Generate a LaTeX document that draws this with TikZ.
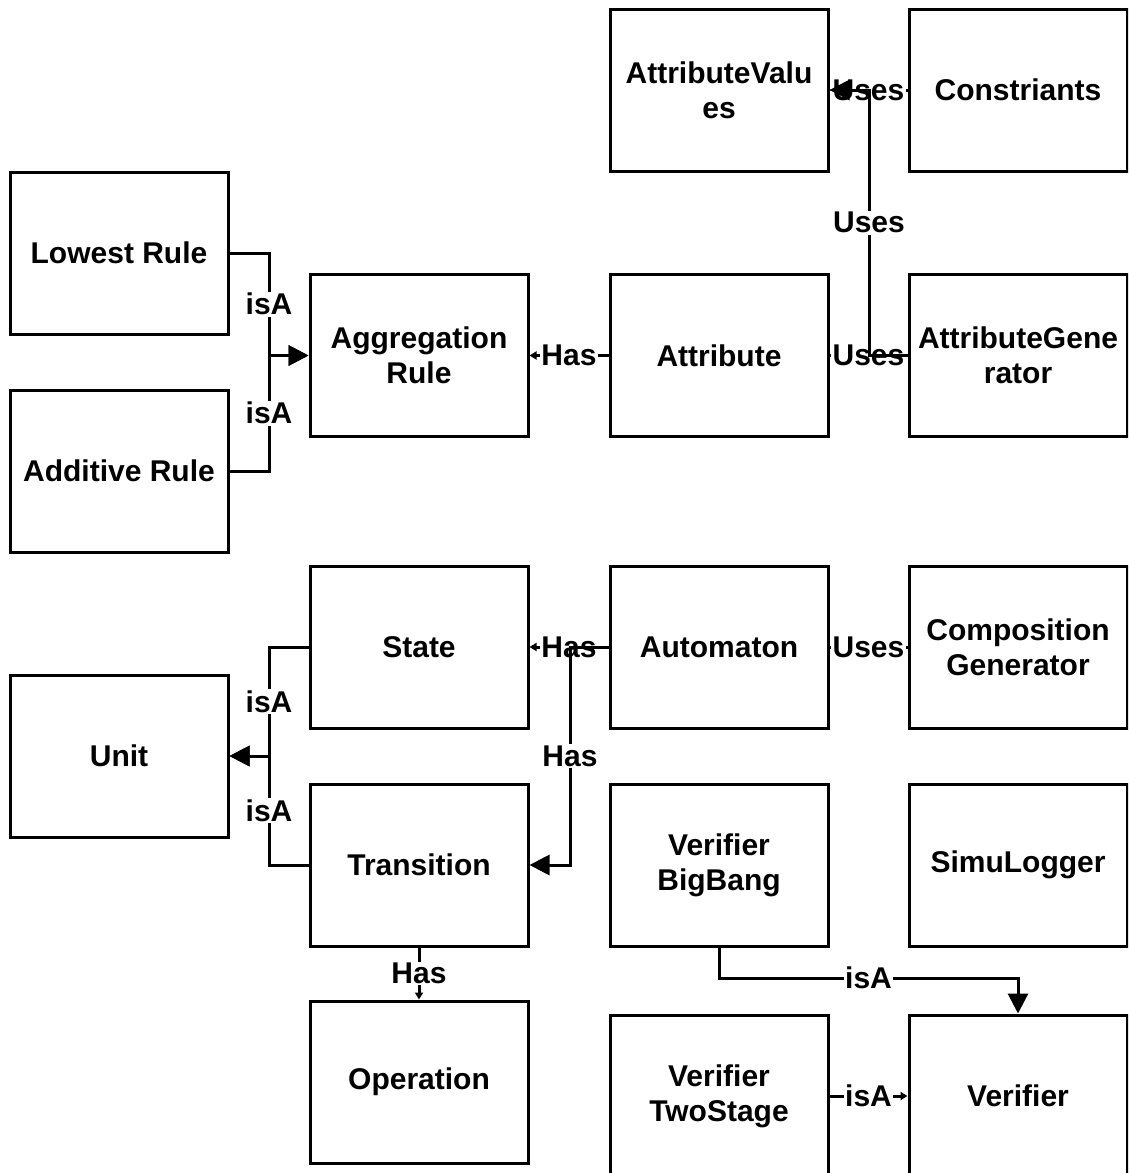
\documentclass[tikz,border=0pt]{standalone}
\usepackage{fontspec}
\setmainfont{Liberation Sans}
\usetikzlibrary{arrows.meta}
\tikzset{
 box/.style={draw, line width=3pt, minimum width=218pt, minimum height=162pt, align=center, inner sep=0pt, font=\fontsize{30}{35}\selectfont\bfseries},
 conn/.style={line width=3pt},
 bigarr/.style={conn, -{Triangle[length=20pt,width=20pt]}},
 smallarr/.style={conn, -{Triangle[length=7pt,width=8pt]}},
 lbl/.style={fill=white, inner sep=1.5pt, font=\fontsize{30}{35}\selectfont\bfseries},
}
\begin{document}
\begin{tikzpicture}[x=1pt,y=-1pt]
\useasboundingbox (0,0) rectangle (1128,1173);
\clip (0,0) rectangle (1128,1173);
\fill[white] (0,0) rectangle (1128,1173);
% boxes
\node[box] (av) at (719,90) {AttributeValu\\es};
\node[box] (con) at (1018,90) {Constriants};
\node[box] (lr) at (119,253) {Lowest Rule};
\node[box] (ag) at (419,355.5) {Aggregation\\Rule};
\node[box] (att) at (719,355.5) {Attribute};
\node[box] (agen) at (1018,355.5) {AttributeGene\\rator};
\node[box] (ad) at (119,471) {Additive Rule};
\node[box] (st) at (419,647) {State};
\node[box] (aut) at (719,647) {Automaton};
\node[box] (cg) at (1018,647) {Composition\\Generator};
\node[box] (unit) at (119,756) {Unit};
\node[box] (tr) at (419,865) {Transition};
\node[box] (vbb) at (719,865) {Verifier\\BigBang};
\node[box] (sl) at (1018,865) {SimuLogger};
\node[box] (op) at (419,1082) {Operation};
\node[box] (vts) at (719,1096) {Verifier\\TwoStage};
\node[box] (ver) at (1018,1096) {Verifier};
% junction coordinates
\coordinate (jA) at (269,355.5);
\coordinate (jU) at (269,756);
\coordinate (jT) at (570,647);
\coordinate (jG) at (869,355.5);
\coordinate (jV) at (1018,978);
% connectors
\draw[bigarr] (con.west) -- node[lbl]{Uses} (av.east);
\draw[conn] (att.east) -- node[lbl]{Uses} (agen.west);
\draw[bigarr] (agen.west) -- (jG) |- node[lbl,pos=0.25]{Uses} (av.east);
\draw[smallarr] (att.west) -- node[lbl]{Has} (ag.east);
\draw[bigarr] (lr.east) -| node[lbl,pos=0.75]{isA} (jA) -- (ag.west);
\draw[bigarr] (ad.east) -| node[lbl,pos=0.75]{isA} (jA) -- (ag.west);
\draw[conn] (aut.east) -- node[lbl]{Uses} (cg.west);
\draw[smallarr] (aut.west) -- node[lbl]{Has} (st.east);
\draw[bigarr] (aut.west) -- (jT) |- node[lbl,pos=0.25]{Has} (tr.east);
\draw[bigarr] (st.west) -| node[lbl,pos=0.75]{isA} (jU) -- (unit.east);
\draw[bigarr] (tr.west) -| node[lbl,pos=0.75]{isA} (jU) -- (unit.east);
\draw[smallarr] (tr.south) -- node[lbl]{Has} (op.north);
\draw[bigarr] (vbb.south) |- node[lbl,pos=0.75]{isA} (jV) -- (ver.north);
\draw[smallarr] (vts.east) -- node[lbl]{isA} (ver.west);
\end{tikzpicture}
\end{document}
